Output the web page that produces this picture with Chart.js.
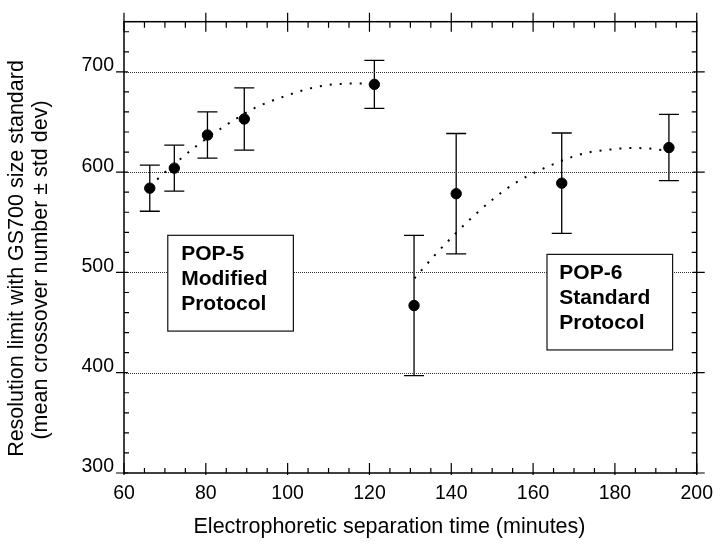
<!DOCTYPE html>
<html>
<head>
<meta charset="utf-8">
<script src="https://cdn.jsdelivr.net/npm/chart.js@4.4.0/dist/chart.umd.min.js"></script>
<style>
  html, body { margin: 0; padding: 0; background: #fff; }
</style>
</head>
<body>
<canvas id="chart" width="722" height="550"></canvas>
<script>
// values
const pop5Time = [66.3, 72.3, 80.4, 89.4, 121.2];
const pop5Mean = [584, 604, 637, 653, 687.5];
const pop5Sd   = [23, 23, 23, 31, 24];

const pop6Time = [130.9, 141.2, 167.0, 193.2];
const pop6Mean = [467, 578.5, 589, 624.5];
const pop6Sd   = [70, 60, 50, 33];

// dotted trend curves, traced point by point
const fit5Time = [66.3, 72, 78, 85, 92, 99.5, 106, 113, 120];
const fit5Val  = [586, 607, 627, 647, 664, 676, 684, 688, 688.5];
const fit6Time = [131, 135.7, 140.6, 145.4, 150.2, 154.8, 159.6, 164.4, 169.4, 174, 178.8, 183.7, 188.6, 193.2];
const fit6Val  = [494, 516, 537, 556, 573, 587, 598, 607, 615, 620, 622.5, 624, 623.5, 621];

const xTicks = [60, 80, 100, 120, 140, 160, 180, 200];
const yTicks = [300, 400, 500, 600, 700];
const gridVals = [400, 500, 600, 700];

const pop5Note = ['POP-5', 'Modified', 'Protocol'];
const pop6Note = ['POP-6', 'Standard', 'Protocol'];

const xTitle = 'Electrophoretic separation time (minutes)';
const yTitle = ['Resolution limit with GS700 size standard', '(mean crossover number \u00b1 std dev)'];

const FONT = '"Liberation Sans", Arial, sans-serif';
const pts = (xs, ys) => xs.map((x, i) => ({ x: x, y: ys[i] }));

// error bars, drawn under the markers
const errorBars = {
  id: 'errorBars',
  beforeDatasetsDraw(chart) {
    const { ctx, scales: { x, y } } = chart;
    ctx.save();
    ctx.strokeStyle = '#000';
    ctx.lineWidth = 1.3;
    chart.data.datasets.forEach(ds => {
      if (!ds.sd) return;
      ds.data.forEach((p, i) => {
        const px = x.getPixelForValue(p.x);
        const top = y.getPixelForValue(p.y + ds.sd[i]);
        const bot = y.getPixelForValue(p.y - ds.sd[i]);
        ctx.beginPath();
        ctx.moveTo(px, top); ctx.lineTo(px, bot);
        ctx.moveTo(px - 10, top); ctx.lineTo(px + 10, top);
        ctx.moveTo(px - 10, bot); ctx.lineTo(px + 10, bot);
        ctx.stroke();
      });
    });
    ctx.restore();
  }
};

// frame, gridlines and the inward ticks on all four sides
const frame = {
  id: 'frame',
  beforeDatasetsDraw(chart) {
    const { ctx, chartArea: a, scales: { x, y } } = chart;
    ctx.save();
    // dotted gridlines
    ctx.strokeStyle = '#333';
    ctx.lineWidth = 1;
    ctx.setLineDash([1, 1]);
    gridVals.forEach(v => {
      const py = Math.round(y.getPixelForValue(v)) + 0.5;
      ctx.beginPath(); ctx.moveTo(a.left, py); ctx.lineTo(a.right, py); ctx.stroke();
    });
    ctx.setLineDash([]);

    ctx.strokeStyle = '#000';
    ctx.lineWidth = 1.5;
    ctx.strokeRect(a.left, a.top, a.right - a.left, a.bottom - a.top);

    ctx.lineWidth = 1.2;
    ctx.beginPath();
    // minor x ticks every 5
    for (let v = 65; v < 200; v += 5) {
      if (v % 20 === 0) continue;
      const px = x.getPixelForValue(v);
      ctx.moveTo(px, a.bottom); ctx.lineTo(px, a.bottom - 5);
      ctx.moveTo(px, a.top); ctx.lineTo(px, a.top + 6);
    }
    xTicks.forEach(v => {
      const px = x.getPixelForValue(v);
      ctx.moveTo(px, a.bottom + 2); ctx.lineTo(px, a.bottom - 10);
      ctx.moveTo(px, a.top - 9); ctx.lineTo(px, a.top + 10);
    });
    // minor y ticks every 20
    for (let v = 320; v < 750; v += 20) {
      if (v % 100 === 0) continue;
      const py = y.getPixelForValue(v);
      ctx.moveTo(a.left, py); ctx.lineTo(a.left + 5, py);
      ctx.moveTo(a.right, py); ctx.lineTo(a.right - 5, py);
    }
    yTicks.forEach(v => {
      const py = y.getPixelForValue(v);
      ctx.moveTo(a.left - 8, py); ctx.lineTo(a.left + 4, py);
      ctx.moveTo(a.right - 4, py); ctx.lineTo(a.right + 8, py);
    });
    ctx.stroke();
    ctx.restore();
  },
  afterDatasetsDraw(chart) {
    const { ctx, scales: { x, y } } = chart;
    const note = (lines, x0, x1, y0, y1, pad) => {
      const l = x.getPixelForValue(x0), r = x.getPixelForValue(x1);
      const t = y.getPixelForValue(y0), b = y.getPixelForValue(y1);
      ctx.fillStyle = '#fff';
      ctx.fillRect(l, t, r - l, b - t);
      ctx.strokeStyle = '#111';
      ctx.lineWidth = 1.2;
      ctx.strokeRect(l, t, r - l, b - t);
      ctx.fillStyle = '#000';
      ctx.font = 'bold 21px ' + FONT;
      ctx.textAlign = 'left';
      ctx.textBaseline = 'alphabetic';
      lines.forEach((s, i) => ctx.fillText(s, l + pad, t + 25 + i * 24.7));
    };
    ctx.save();
    note(pop5Note, 70.7, 101.4, 537, 441.5, 13.4);
    note(pop6Note, 163.4, 194.1, 518, 422.7, 12.3);
    ctx.restore();
  },
  afterDraw(chart) {
    const ctx = chart.ctx;
    ctx.save();
    ctx.fillStyle = '#000';
    ctx.font = '21.5px ' + FONT;
    ctx.textAlign = 'center';
    ctx.textBaseline = 'middle';
    ctx.fillText(xTitle, 389.5, 527.5);
    ctx.translate(0, 0);
    [[17.5, 258.5], [41.5, 270]].forEach((p, i) => {
      ctx.save();
      ctx.translate(p[0], p[1]);
      ctx.rotate(-Math.PI / 2);
      ctx.fillText(yTitle[i], 0, 0);
      ctx.restore();
    });
    ctx.restore();
  }
};

new Chart(document.getElementById('chart'), {
  type: 'scatter',
  data: {
    datasets: [
      {
        label: 'POP-5 Modified Protocol',
        data: pts(pop5Time, pop5Mean),
        sd: pop5Sd,
        pointRadius: 5.2, pointHoverRadius: 5.2,
        backgroundColor: '#000', borderColor: '#000'
      },
      {
        label: 'POP-6 Standard Protocol',
        data: pts(pop6Time, pop6Mean),
        sd: pop6Sd,
        pointRadius: 5.2, pointHoverRadius: 5.2,
        backgroundColor: '#000', borderColor: '#000'
      },
      {
        label: 'POP-5 trend',
        data: pts(fit5Time, fit5Val),
        showLine: true, pointRadius: 0,
        borderColor: '#000', borderWidth: 2, borderDash: [2, 8],
        cubicInterpolationMode: 'monotone'
      },
      {
        label: 'POP-6 trend',
        data: pts(fit6Time, fit6Val),
        showLine: true, pointRadius: 0,
        borderColor: '#000', borderWidth: 2, borderDash: [2, 8],
        cubicInterpolationMode: 'monotone'
      }
    ]
  },
  options: {
    responsive: false,
    animation: false,
    layout: { padding: { top: 17, right: 20, left: 0, bottom: 0 } },
    plugins: { legend: { display: false }, tooltip: { enabled: false } },
    scales: {
      x: {
        type: 'linear', min: 60, max: 200,
        afterBuildTicks: s => { s.ticks = xTicks.map(v => ({ value: v })); },
        afterFit: s => { s.height = 77; },
        grid: { display: false, drawTicks: false },
        border: { display: false },
        ticks: { color: '#000', font: { family: FONT, size: 19.5 }, padding: 9, maxRotation: 0 }
      },
      y: {
        type: 'linear', min: 300, max: 750,
        afterBuildTicks: s => { s.ticks = yTicks.map(v => ({ value: v })); },
        afterFit: s => { s.width = 124; },
        grid: { display: false, drawTicks: false },
        border: { display: false },
        ticks: { color: '#000', font: { family: FONT, size: 19.5 }, padding: 10, labelOffset: -6 }
      }
    }
  },
  plugins: [errorBars, frame]
});
</script>
</body>
</html>
